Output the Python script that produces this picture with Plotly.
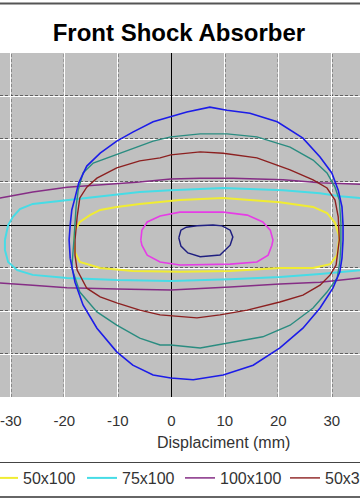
import plotly.graph_objects as go

# ---------------- data (x: displacement in mm, y: force in grid units) ----------------
series_names = ["10x100", "25x100", "50x100", "75x100", "100x100", "50x300", "50x400", "50x500"]
series_colors = ["#1F1F80", "#E63CE6", "#F0EC32", "#46DCE6", "#852D85", "#8C2020", "#2A8C80", "#1C1CE8"]
series_widths = [1.5, 1.6, 2.0, 2.0, 1.5, 1.4, 1.4, 1.6]

x_10x100 = [1.4, 1.8, 2.8, 4.8, 7.8, 9.5, 11.0, 11.5, 11.0, 9.1, 5.4, 3.1, 1.8, 1.4]
y_10x100 = [-0.30, -0.12, -0.05, -0.02, 0.0, -0.02, -0.12, -0.28, -0.47, -0.70, -0.74, -0.65, -0.49, -0.30]

x_25x100 = [-5.7, -5.5, -4.5, -2.1, 1.6, 9.7, 14.2, 17.1, 18.5, 19.0, 18.8, 18.1, 16.0, 11.0, 1.6, -2.1, -4.5, -5.5, -5.7]
y_25x100 = [-0.35, -0.12, 0.07, 0.21, 0.30, 0.30, 0.23, 0.07, -0.12, -0.35, -0.47, -0.70, -0.86, -0.91, -0.93, -0.86, -0.70, -0.47, -0.35]

x_50x100 = [-18.2, -18.0, -17.1, -15.2, -13.3, -10.2, -5.9, 1.6, 9.7, 20.3, 26.5, 29.1, 30.6, 31.4, 31.0, 29.7,
            26.5, 20.3, 11.0, 1.6, -7.2, -13.3, -17.1, -18.0, -18.2]
y_50x100 = [-0.35, -0.12, 0.07, 0.23, 0.35, 0.42, 0.49, 0.58, 0.63, 0.53, 0.42, 0.28, 0.05, -0.28, -0.70, -0.91,
            -1.00, -1.00, -1.07, -1.09, -1.07, -1.00, -0.86, -0.63, -0.35]

x_75x100 = [-31.1, -30.5, -29.6, -28.3, -25.9, -19.5, -13.3, -5.9, -0.1, 9.7, 20.9, 27.8, 31.5, 35.3, 37.5, 38.6,
            39.0, 38.6, 37.5, 35.3, 27.8, 20.3, 11.0, -0.1, -10.2, -19.5, -25.9, -28.8, -30.5, -31.1, -31.1]
y_75x100 = [-0.35, 0.0, 0.19, 0.37, 0.49, 0.58, 0.67, 0.77, 0.81, 0.86, 0.81, 0.74, 0.67, 0.63, 0.55, 0.30,
            -0.30, -0.80, -0.98, -1.05, -1.14, -1.21, -1.26, -1.30, -1.28, -1.23, -1.16, -1.05, -0.86, -0.58, -0.35]

x_100x100 = [-42.0, -38.0, -32.0, -25.9, -19.5, -13.3, -5.9, -0.1, 5.4, 11.5, 20.9, 27.8, 35.3, 39.0, 42.0,
             39.0, 35.3, 27.8, 20.3, 11.0, -0.1, -10.2, -19.5, -25.9, -32.0, -38.0, -42.0]
y_100x100 = [-0.40, 0.48, 0.63, 0.77, 0.88, 0.93, 1.00, 1.07, 1.09, 1.09, 1.05, 0.98, 0.95, 0.90, -0.10,
             -1.15, -1.23, -1.33, -1.37, -1.44, -1.51, -1.49, -1.46, -1.40, -1.35, -1.30, -0.40]

x_50x300 = [-18.0, -17.6, -17.1, -15.8, -13.9, -10.2, -5.9, -2.1, -0.1, 5.4, 9.7, 16.0, 22.2, 26.5, 29.1, 30.6,
            31.2, 31.4, 30.8, 29.7, 27.8, 24.6, 20.3, 14.2, 9.1, 4.8, -2.1, -5.9, -10.2, -13.3, -15.8, -17.6,
            -18.0, -18.0]
y_50x300 = [-0.35, 0.19, 0.63, 0.88, 1.09, 1.33, 1.49, 1.56, 1.63, 1.70, 1.67, 1.56, 1.28, 1.05, 0.86, 0.58,
            0.19, -0.35, -0.93, -1.16, -1.40, -1.63, -1.79, -1.98, -2.09, -2.16, -2.09, -1.98, -1.81, -1.67, -1.47,
            -1.05, -0.70, -0.35]

x_50x400 = [-18.2, -18.0, -17.8, -17.4, -16.5, -14.6, -11.5, -7.2, -3.4, -0.1, 5.4, 10.4, 16.0, 22.2, 26.5, 29.1,
            30.6, 31.4, 31.7, 31.7, 31.5, 31.0, 29.1, 26.5, 22.2, 17.1, 11.0, 5.4, -0.1, -2.1, -5.9, -10.2, -13.9,
            -17.1, -18.6, -18.2]
y_50x400 = [-0.35, 0.0, 0.42, 0.81, 1.21, 1.44, 1.58, 1.79, 1.95, 2.05, 2.12, 2.12, 2.05, 1.81, 1.51, 1.21,
            0.88, 0.58, 0.05, -0.47, -0.86, -1.23, -1.56, -1.93, -2.33, -2.60, -2.74, -2.86, -2.79, -2.79, -2.63,
            -2.33, -2.02, -1.56, -1.00, -0.35]

x_50x500 = [-18.9, -19.1, -18.9, -18.6, -18.0, -17.3, -15.8, -13.3, -10.2, -7.2, -3.4, -0.1, 2.9, 7.2, 10.4, 14.7,
            19.8, 24.6, 27.8, 30.0, 31.2, 31.9, 32.1, 32.1, 31.9, 31.5, 30.2, 27.8, 24.6, 20.3, 15.3, 9.7, 4.1,
            -0.1, -3.4, -7.2, -10.2, -13.9, -16.5, -18.0, -18.9]
y_50x500 = [-0.77, -0.35, 0.0, 0.35, 0.63, 0.98, 1.37, 1.67, 1.95, 2.16, 2.40, 2.53, 2.63, 2.74, 2.67, 2.60,
            2.40, 2.02, 1.58, 1.21, 0.81, 0.42, 0.0, -0.35, -0.77, -1.09, -1.47, -1.93, -2.40, -2.86, -3.26, -3.49,
            -3.60, -3.56, -3.49, -3.26, -2.95, -2.40, -1.86, -1.33, -0.77]

x_ticks = [-30, -20, -10, 0, 10, 20, 30]
x_tick_labels = ["-30", "-20", "-10", "0", "10", "20", "30"]
y_grid = [-3, -2, -1, 0, 1, 2, 3]

series_x = [x_10x100, x_25x100, x_50x100, x_75x100, x_100x100, x_50x300, x_50x400, x_50x500]
series_y = [y_10x100, y_25x100, y_50x100, y_75x100, y_100x100, y_50x300, y_50x400, y_50x500]

# ---------------- layout constants ----------------
W, H = 360, 504
M_T, M_B = 53, 107
PLOT_H = H - M_T - M_B
FONT = "Liberation Sans, Arial, sans-serif"
legend_px = [-215, -116, -17, 82, 180, 285, 395, 495]  # left of each legend entry (px)
legend_y = (PLOT_H - (478 - M_T)) / PLOT_H  # paper y of legend row


def py_to_paper(py):
    return (H - M_B - py) / PLOT_H


fig = go.Figure()
for i, (name, xs, ys) in enumerate(zip(series_names, series_x, series_y)):
    lg = "legend" if i == 0 else f"legend{i + 1}"
    fig.add_trace(go.Scatter(
        x=xs, y=ys, mode="lines", name=name,
        line=dict(color=series_colors[i], width=series_widths[i]),
        legend=lg, hoverinfo="skip",
    ))

layout_legends = {}
for i in range(len(series_names)):
    key = "legend" if i == 0 else f"legend{i + 1}"
    layout_legends[key] = dict(
        x=legend_px[i] / W, xanchor="left", y=legend_y, yanchor="middle",
        orientation="h", bgcolor="rgba(0,0,0,0)", borderwidth=0,
        font=dict(family=FONT, size=16, color="#333333"),
    )

shapes = []
# black dashed part of the Excel-style grid (on top of white solid grid)
for xv in x_ticks:
    if xv != 0:
        shapes.append(dict(type="line", layer="between", xref="x", yref="paper",
                           x0=xv, x1=xv, y0=0, y1=1,
                           line=dict(color="black", width=1, dash="3px,2px")))
for yv in y_grid:
    if yv != 0:
        shapes.append(dict(type="line", layer="between", xref="paper", yref="y",
                           x0=0, x1=1, y0=yv, y1=yv,
                           line=dict(color="black", width=1, dash="3px,2px")))
# chart border (top) and legend box lines
shapes.append(dict(type="line", xref="paper", yref="paper", x0=-0.1, x1=1.1,
                   y0=py_to_paper(3.5), y1=py_to_paper(3.5), line=dict(color="#555555", width=2)))
shapes.append(dict(type="line", xref="paper", yref="paper", x0=-0.1, x1=1.1,
                   y0=py_to_paper(462.5), y1=py_to_paper(462.5), line=dict(color="#444444", width=1)))
shapes.append(dict(type="line", xref="paper", yref="paper", x0=-0.1, x1=1.1,
                   y0=py_to_paper(497), y1=py_to_paper(497), line=dict(color="#666666", width=2)))

fig.update_layout(
    width=W, height=H,
    margin=dict(l=0, r=0, t=M_T, b=M_B, autoexpand=False),
    paper_bgcolor="white", plot_bgcolor="#C0C0C0",
    title=dict(text="<b>Front Shock Absorber</b>", x=0.497, xanchor="center",
               y=1 - 33 / H, yanchor="middle", yref="container",
               font=dict(family=FONT, size=24, color="black")),
    xaxis=dict(range=[-32.02, 35.27], tickvals=x_ticks, ticktext=x_tick_labels, ticks="",
               showgrid=True, gridcolor="white", gridwidth=1,
               zeroline=True, zerolinecolor="black", zerolinewidth=1,
               showline=False, tickfont=dict(family=FONT, size=15, color="#333333"),
               ticklabelstandoff=13, ticklabeloverflow="allow"),
    yaxis=dict(range=[-4, 4], tickvals=y_grid, showticklabels=False, ticks="",
               showgrid=True, gridcolor="white", gridwidth=1,
               zeroline=True, zerolinecolor="black", zerolinewidth=1, showline=False),
    shapes=shapes,
    annotations=[dict(text="Displaciment (mm)", xref="paper", yref="paper",
                      x=223.5 / W, y=py_to_paper(442), xanchor="center", yanchor="middle",
                      showarrow=False, font=dict(family=FONT, size=16, color="#333333"))],
    **layout_legends,
)

fig.write_html("out.html")
